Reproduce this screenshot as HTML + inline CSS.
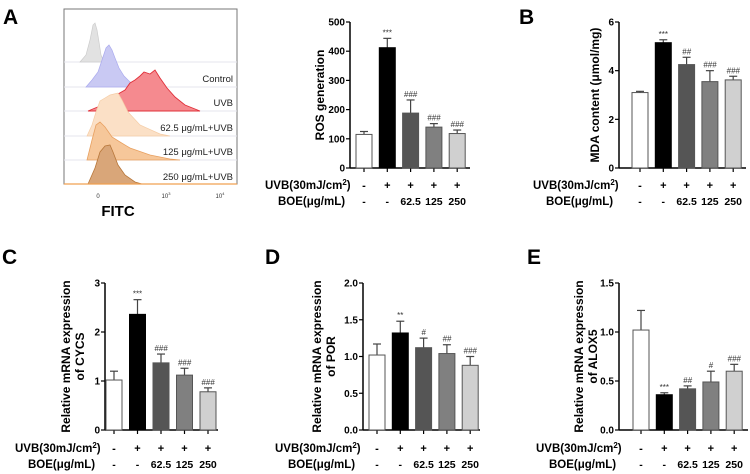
<!DOCTYPE html>
<html><head><meta charset="utf-8"><style>
body{margin:0;background:#fff}
svg{display:block;font-family:"Liberation Sans",sans-serif}
</style></head><body>
<svg id="fig" width="750" height="474" viewBox="0 0 750 474" xmlns="http://www.w3.org/2000/svg">
<g>
<text x="3" y="24" font-size="21" font-weight="bold">A</text>
<rect x="64" y="9" width="173" height="175" fill="#fff" stroke="#777" stroke-width="1"/>
<g stroke="#e4e4ee" stroke-width="1">
<line x1="64" y1="62" x2="237" y2="62"/><line x1="64" y1="87" x2="237" y2="87"/><line x1="64" y1="111" x2="237" y2="111"/><line x1="64" y1="136" x2="237" y2="136"/><line x1="64" y1="160" x2="237" y2="160"/>
</g>
<path d="M80 62 L86 55 L90 40 L93 25 L95 23 L97 30 L99 42 L101 55 L104 62Z" fill="#e2e2e2" stroke="#ccc" stroke-width="0.7"/>
<path d="M86 87 L92 80 L98 72 L102 60 L106 48 L109 45 L112 50 L115 58 L119 68 L124 76 L130 82 L140 86 L150 87Z" fill="#c9c9f3" stroke="#aaaaee" stroke-width="0.7"/>
<path d="M88 111 L100 106 L110 100 L118 94 L125 90 L130 83 L135 80 L140 76 L144 72 L150 74 L155 70 L160 78 L167 88 L175 97 L185 105 L200 111Z" fill="#f58a8f" stroke="#e0303a" stroke-width="0.9"/>
<path d="M87 136 L92 125 L96 112 L100 101 L105 98 L110 95 L118 93 L122 100 L128 112 L140 125 L160 134 L170 136Z" fill="#fbe0c6" stroke="#f5cda6" stroke-width="0.7"/>
<path d="M87 160 L92 140 L96 125 L100 122 L105 127 L112 137 L120 142 L130 148 L150 155 L170 159 L180 160Z" fill="#f6c79a" stroke="#e8a060" stroke-width="0.8"/>
<path d="M88 184 L95 168 L100 152 L105 146 L110 145 L113 152 L118 165 L125 175 L135 182 L142 184Z" fill="#d9a679" stroke="#b8773a" stroke-width="0.8"/>
<line x1="64" y1="184" x2="237" y2="184" stroke="#f0a050" stroke-width="1.2"/>
<g font-size="9.5" fill="#222" text-anchor="end">
<text x="233" y="82">Control</text>
<text x="233" y="106">UVB</text>
<text x="233" y="131">62.5 μg/mL+UVB</text>
<text x="233" y="155">125 μg/mL+UVB</text>
<text x="233" y="180">250 μg/mL+UVB</text>
</g>
<g font-size="6" fill="#333" text-anchor="middle">
<text x="98" y="198">0</text><text x="166" y="198">10<tspan dy="-3" font-size="4">3</tspan></text><text x="220" y="198">10<tspan dy="-3" font-size="4">4</tspan></text>
</g>
<text x="118" y="216" font-size="15" font-weight="bold" text-anchor="middle">FITC</text>
</g>
<text x="519" y="24" font-size="21" font-weight="bold">B</text>
<text x="2" y="264" font-size="21" font-weight="bold">C</text>
<text x="265" y="264" font-size="21" font-weight="bold">D</text>
<text x="527" y="264" font-size="21" font-weight="bold">E</text>
</svg>
<script>
const NS="http://www.w3.org/2000/svg";
const fig=document.getElementById('fig');
const colors=['#ffffff','#000000','#555555','#808080','#d0d0d0'];
const uvbLabels=['-','+','+','+','+'];
const boeLabels=['-','-','62.5','125','250'];
const rosValues=[115,412,188,140,118];
const rosErrors=[10,32,45,12,12];
const rosMarks=['','***','###','###','###'];
const rosTicks=[0,100,200,300,400,500];
const mdaValues=[3.1,5.15,4.25,3.55,3.62];
const mdaErrors=[0.05,0.12,0.3,0.45,0.15];
const mdaMarks=['','***','##','###','###'];
const mdaTicks=[0,2,4,6];
const cycsValues=[1.02,2.36,1.37,1.12,0.78];
const cycsErrors=[0.18,0.3,0.18,0.14,0.08];
const cycsMarks=['','***','###','###','###'];
const cycsTicks=[0,1,2,3];
const porValues=[1.02,1.32,1.12,1.04,0.88];
const porErrors=[0.15,0.16,0.13,0.12,0.12];
const porMarks=['','**','#','##','###'];
const porTicks=['0.0','0.5','1.0','1.5','2.0'];
const aloxValues=[1.02,0.36,0.42,0.49,0.6];
const aloxErrors=[0.2,0.02,0.03,0.11,0.07];
const aloxMarks=['***','##','#','###'];
const aloxMarksAll=['','***','##','#','###'];
const aloxTicks=['0.0','0.5','1.0','1.5'];

function mk(tag,attrs,parent,txt){const e=document.createElementNS(NS,tag);for(const k in attrs)e.setAttribute(k,attrs[k]);if(txt!==undefined)e.textContent=txt;(parent||fig).appendChild(e);return e;}

function chart(o,values,errors,marks,ticks){
  const g=mk('g',{});
  
  
  const ymax=parseFloat(ticks[ticks.length-1]);
  const y=v=>o.y0-(v/ymax)*(o.y0-o.yTop);
  const x=i=>o.x1+i*o.step;
  mk('line',{x1:o.ax,y1:o.yTop,x2:o.ax,y2:o.y0,stroke:'#000','stroke-width':1.5},g);
  mk('line',{x1:o.ax,y1:o.y0,x2:o.xEnd,y2:o.y0,stroke:'#000','stroke-width':1.5},g);
  ticks.forEach(t=>{const v=parseFloat(t);
    mk('line',{x1:o.ax-4,y1:y(v),x2:o.ax,y2:y(v),stroke:'#000','stroke-width':1.2},g);
    const tl=mk('text',{x:o.ax-5,y:y(v)+3.5,'font-size':10,'font-weight':'bold','text-anchor':'end'},g,String(t));
    
    
  });
  values.forEach((v,i)=>{
    const cx=x(i);
    mk('line',{x1:cx,y1:o.y0,x2:cx,y2:o.y0+4,stroke:'#000','stroke-width':1.2},g);
    const top=y(v+errors[i]);
    mk('line',{x1:cx,y1:y(v),x2:cx,y2:top,stroke:'#444','stroke-width':1.2},g);
    mk('line',{x1:cx-4,y1:top,x2:cx+4,y2:top,stroke:'#444','stroke-width':1.2},g);
    const b=mk('rect',{x:cx-8,y:y(v),width:16,height:o.y0-y(v),fill:colors[i],stroke:i==1?'#000':'#555','stroke-width':1},g);
    
    
    if(marks[i]){const m=mk('text',{x:cx,y:top-3,'font-size':8,'text-anchor':'middle','font-style':marks[i][0]=='#'?'italic':'normal',fill:'#333'},g,marks[i]);
      
      }
    const u=mk('text',{x:cx,y:o.uvbY,'font-size':11,'font-weight':'bold','text-anchor':'middle'},g,uvbLabels[i]);
    
    
    const bo=mk('text',{x:cx,y:o.uvbY+16,'font-size':10.5,'font-weight':'bold','text-anchor':'middle'},g,boeLabels[i]);
    
    
  });
  const ul=mk('text',{x:o.lx,y:o.uvbY,'font-size':11.5,'font-weight':'bold'},g);
  ul.innerHTML='UVB(30mJ/cm<tspan dy="-4" font-size="8">2</tspan><tspan dy="4">)</tspan>';
  
  
  const bl=mk('text',{x:o.lx+13,y:o.uvbY+16,'font-size':11.5,'font-weight':'bold'},g,'BOE(μg/mL)');
  
  
  const cy=(o.yTop+o.y0)/2;
  o.title.forEach((t,k)=>{
    const tx=o.tx+k*14;
    const te=mk('text',{x:tx,y:cy,'font-size':12,'font-weight':'bold','text-anchor':'middle',transform:`rotate(-90 ${tx} ${cy})`},g,t);
    
    
  });
}
chart({name:'chart-ros',ax:350,yTop:22,y0:168,x1:364,step:23.3,xEnd:470,uvbY:189,lx:265,tx:324,title:['ROS generation']},rosValues,rosErrors,rosMarks,rosTicks);
chart({name:'chart-mda',ax:619,yTop:22,y0:168,x1:640,step:23.3,xEnd:746,uvbY:189,lx:533,tx:599,title:['MDA content (μmol/mg)']},mdaValues,mdaErrors,mdaMarks,mdaTicks);
chart({name:'chart-cycs',ax:105,yTop:283,y0:430,x1:114,step:23.5,xEnd:218,uvbY:452,lx:15,tx:70,title:['Relative mRNA expression','of CYCS']},cycsValues,cycsErrors,cycsMarks,cycsTicks);
chart({name:'chart-por',ax:363,yTop:283,y0:430,x1:377,step:23.3,xEnd:480,uvbY:452,lx:275,tx:321,title:['Relative mRNA expression','of POR']},porValues,porErrors,porMarks,porTicks);
chart({name:'chart-alox5',ax:619,yTop:283,y0:430,x1:641,step:23.3,xEnd:748,uvbY:452,lx:536,tx:583,title:['Relative mRNA expression','of ALOX5']},aloxValues,aloxErrors,aloxMarksAll,aloxTicks);
</script>
</body></html>
